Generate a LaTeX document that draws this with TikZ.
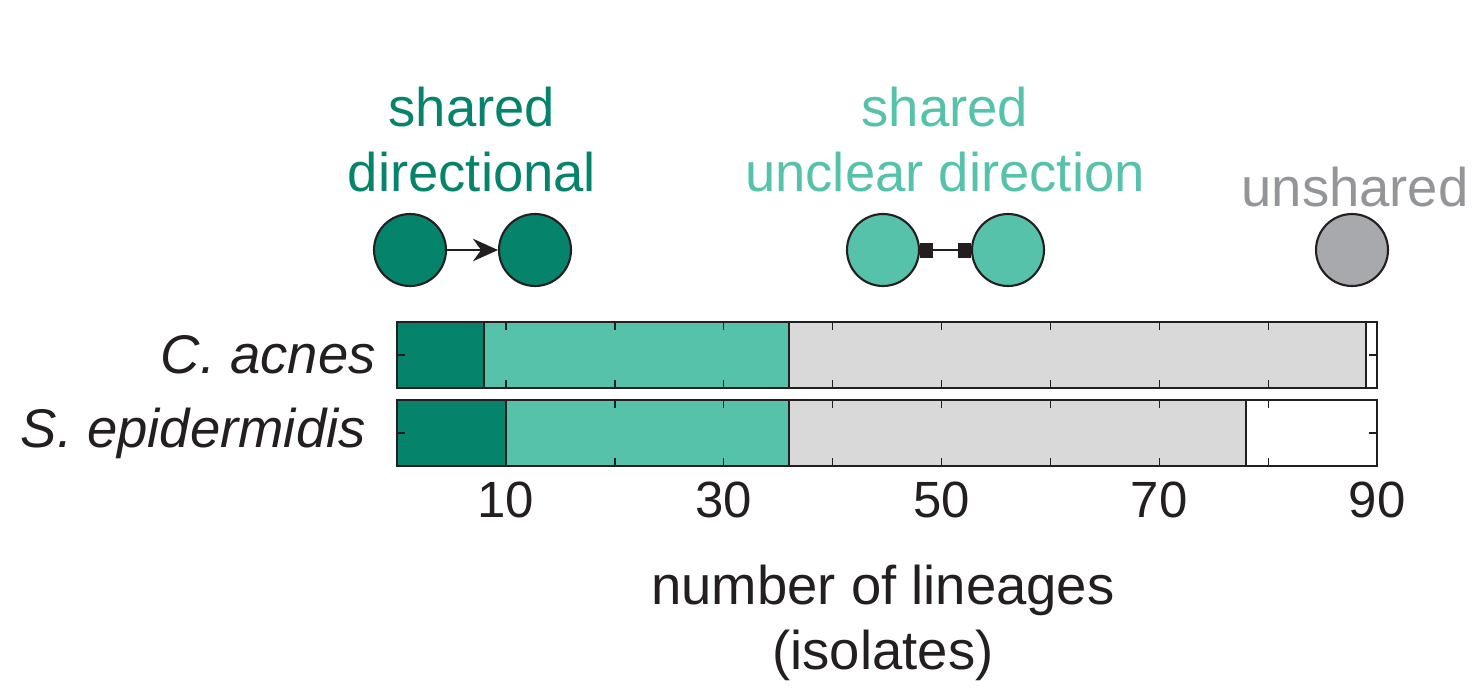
\documentclass[tikz,border=0pt]{standalone}
\usepackage{fontspec}
\setmainfont{Liberation Sans}
\usetikzlibrary{arrows.meta}
\definecolor{darkgrn}{HTML}{06836B}
\definecolor{lightgrn}{HTML}{55C2A9}
\definecolor{circgray}{HTML}{A7A9AC}
\definecolor{bargray}{HTML}{D9D9D9}
\definecolor{txtgray}{HTML}{939598}
\definecolor{ink}{HTML}{231F20}
\begin{document}
\begin{tikzpicture}[x=0.02cm,y=-0.02cm]
        \tikzset{lineage/.style = {shape=circle,draw=ink,line width=1.2pt,minimum size=1.44cm,inner sep=0pt}}
        \tikzset{legtext/.style = {font=\fontsize{31}{37}\selectfont}}
        \tikzset{ticktext/.style = {font=\fontsize{29}{37}\selectfont,text=ink}}
        \tikzset{bar/.style = {draw=ink,line width=1.2pt}}
        \useasboundingbox (0,0) rectangle (1481,691);
        % legend
        \node[legtext,text=darkgrn,align=center] (tdir) at (472,140) {shared\\directional};
        \node[legtext,text=lightgrn,align=center] (tunc) at (945,140) {shared\\unclear direction};
        \node[legtext,text=txtgray] (tuns) at (1355,187) {unshared};
        \node[lineage,fill=darkgrn] (d1) at (410,250) {};
        \node[lineage,fill=darkgrn] (d2) at (535,250) {};
        \node[lineage,fill=lightgrn] (u1) at (883,250) {};
        \node[lineage,fill=lightgrn] (u2) at (1008,250) {};
        \node[lineage,fill=circgray] (s1) at (1352,250) {};
        \draw[ink,line width=1.5pt,-{Stealth[length=0.5cm,width=0.45cm]}] (d1) -- (d2);
        \draw[ink,line width=1.5pt,{Square[length=0.26cm,width=0.3cm]}-{Square[length=0.26cm,width=0.3cm]}] (u1) -- (u2);
        % bars
        \foreach \y/\a/\b/\c in {322/8/36/89, 400/10/36/78} {
          \fill[darkgrn] (397,\y) rectangle ({397+\a*10.89},\y+66);
          \fill[lightgrn] ({397+\a*10.89},\y) rectangle ({397+\b*10.89},\y+66);
          \fill[bargray] ({397+\b*10.89},\y) rectangle ({397+\c*10.89},\y+66);
          \foreach \v in {\a,\b,\c}
            \draw[bar] ({397+\v*10.89},\y) -- ({397+\v*10.89},\y+66);
          \foreach \t in {1,...,8} {
            \draw[ink,line width=0.8pt] ({397+\t*10*10.89},\y) -- ++(0,8);
            \draw[ink,line width=0.8pt] ({397+\t*10*10.89},\y+66) -- ++(0,-8);
          }
          \draw[ink,line width=1pt] (397,\y+33) -- ++(8,0);
          \draw[ink,line width=1pt] (1377,\y+33) -- ++(-8,0);
          \draw[bar] (397,\y) rectangle (1377,\y+66);
        }
        % labels
        \node[ticktext,font=\fontsize{31}{37}\selectfont\itshape,anchor=east] (lca) at (382,355) {C. acnes};
        \node[ticktext,font=\fontsize{31}{37}\selectfont\itshape,anchor=east] (lse) at (372,433) {S. epidermidis};
        \foreach \n in {10,30,50,70,90}
          \node[ticktext] (x\n) at ({397+\n*10.89},500) {\n};
        \node[ticktext,font=\fontsize{31}{37}\selectfont,align=center] (xlab) at (883,623) {number of lineages\\(isolates)};
\end{tikzpicture}
\end{document}
